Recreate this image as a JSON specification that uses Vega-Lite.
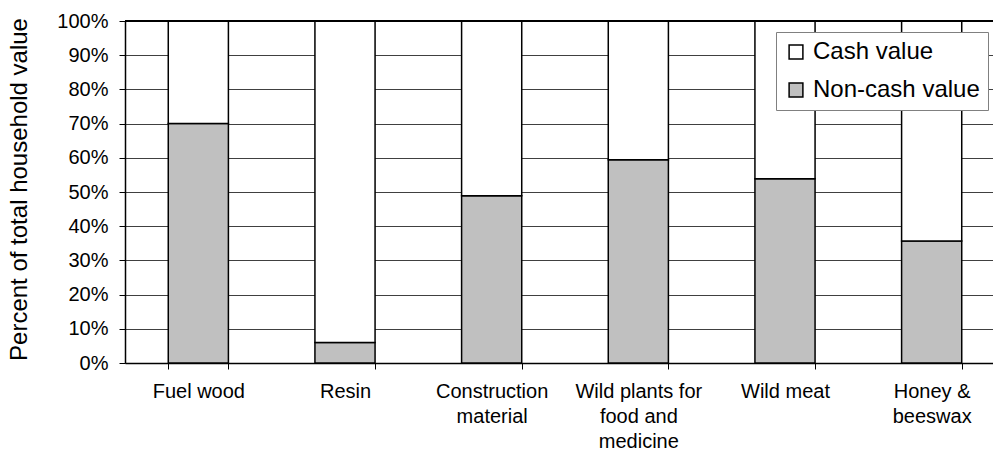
{
  "$schema": "https://vega.github.io/schema/vega-lite/v6.json",
  "autosize": {"type": "none"},
  "width": 868,
  "height": 342,
  "padding": {"left": 125, "top": 21, "right": 0, "bottom": 94},
  "background": "white",
  "config": {
    "font": "Liberation Sans",
    "view": {"stroke": null},
    "axis": {"labelColor": "black", "titleColor": "black", "labelFont": "Liberation Sans", "titleFont": "Liberation Sans"}
  },
  "data": {
    "values": [
      {"category": "Fuel wood", "type": "Non-cash value", "value": 0.70},
      {"category": "Fuel wood", "type": "Cash value", "value": 0.30},
      {"category": "Resin", "type": "Non-cash value", "value": 0.06},
      {"category": "Resin", "type": "Cash value", "value": 0.94},
      {"category": "Construction|material", "type": "Non-cash value", "value": 0.489},
      {"category": "Construction|material", "type": "Cash value", "value": 0.511},
      {"category": "Wild plants for|food and|medicine", "type": "Non-cash value", "value": 0.594},
      {"category": "Wild plants for|food and|medicine", "type": "Cash value", "value": 0.406},
      {"category": "Wild meat", "type": "Non-cash value", "value": 0.539},
      {"category": "Wild meat", "type": "Cash value", "value": 0.461},
      {"category": "Honey &|beeswax", "type": "Non-cash value", "value": 0.357},
      {"category": "Honey &|beeswax", "type": "Cash value", "value": 0.643}
    ]
  },
  "encoding": {
    "y": {
      "type": "quantitative",
      "scale": {"domain": [0, 1], "nice": false},
      "axis": {
        "title": "Percent of total household value",
        "titleFontSize": 24,
        "titleFontWeight": "normal",
        "titleAngle": -90,
        "titleX": -99,
        "titleY": 168,
        "titleAlign": "center",
        "titleBaseline": "alphabetic",
        "format": ".0%",
        "values": [0, 0.1, 0.2, 0.3, 0.4, 0.5, 0.6, 0.7, 0.8, 0.9, 1],
        "labelOverlap": false,
        "labelFontSize": 20,
        "labelPadding": 11,
        "tickSize": 6,
        "tickColor": "black",
        "domainColor": "black",
        "domainWidth": 1.5,
        "grid": true,
        "gridColor": "#404040",
        "gridWidth": 1
      }
    }
  },
  "layer": [
    {
      "mark": {"type": "bar", "stroke": "black", "strokeWidth": 1.5},
      "encoding": {
        "x": {
          "field": "category",
          "type": "nominal",
          "sort": null,
          "scale": {"range": [0, 880], "paddingInner": 0.59, "paddingOuter": 0.295},
          "axis": {
            "title": null,
            "labelAngle": 0,
            "labelExpr": "split(datum.label, '|')",
            "labelFontSize": 20,
            "labelLineHeight": 25,
            "labelBaseline": "top",
            "labelPadding": 12,
            "tickBand": "extent",
            "tickSize": 6,
            "tickColor": "black",
            "domainColor": "black",
            "domainWidth": 1.5,
            "grid": false,
            "labelLimit": 0
          }
        },
        "y": {"field": "value", "stack": "zero"},
        "color": {
          "field": "type",
          "type": "nominal",
          "scale": {"domain": ["Cash value", "Non-cash value"], "range": ["white", "#C0C0C0"]},
          "legend": {
            "title": null,
            "orient": "none",
            "legendX": 651,
            "legendY": 11,
            "direction": "vertical",
            "fillColor": "white",
            "strokeColor": "#808080",
            "padding": 8,
            "labelFontSize": 24,
            "labelColor": "black",
            "labelFont": "Liberation Sans",
            "labelOffset": 5,
            "labelLimit": 0,
            "rowPadding": 14,
            "symbolType": "square",
            "symbolSize": 190,
            "symbolStrokeColor": "black",
            "symbolStrokeWidth": 1.5
          }
        },
        "order": {"field": "type", "sort": "descending"}
      }
    },
    {
      "mark": {"type": "rule", "color": "black", "strokeWidth": 2},
      "encoding": {"y": {"datum": 1}}
    }
  ]
}
